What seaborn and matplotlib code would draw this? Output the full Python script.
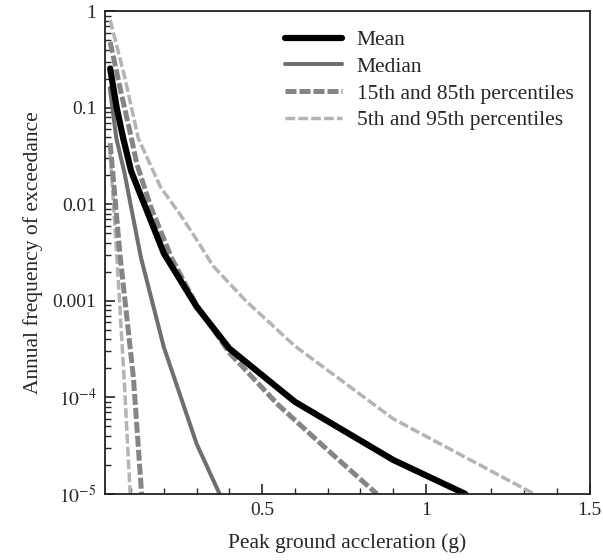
import numpy as np
import pandas as pd
import seaborn as sns
import matplotlib
matplotlib.use("Agg")
import matplotlib.pyplot as plt
from matplotlib.ticker import FixedLocator, FixedFormatter, MultipleLocator, NullFormatter
from matplotlib.lines import Line2D

# ---- data ----
mean_x = [0.036, 0.056, 0.076, 0.10, 0.20, 0.30, 0.40, 0.60, 0.90, 1.12]
mean_y = [0.255, 0.10, 0.048, 0.022, 0.0031, 0.00087, 0.00032, 9.0e-5, 2.25e-5, 1.0e-5]

median_x = [0.035, 0.055, 0.08, 0.10, 0.13, 0.20, 0.30, 0.37]
median_y = [0.16, 0.048, 0.021, 0.0093, 0.0028, 3.3e-4, 3.3e-5, 1.0e-5]

p85_x = [0.036, 0.07, 0.10, 0.117, 0.16, 0.224, 0.30, 0.40, 0.55, 0.70, 0.85]
p85_y = [0.48, 0.14, 0.05, 0.0265, 0.0094, 0.00275, 0.0009, 0.00029, 8.3e-5, 2.85e-5, 1.0e-5]

p15_x = [0.036, 0.066, 0.107, 0.132]
p15_y = [0.043, 0.003, 1.6e-4, 1.0e-5]

p95_x = [0.036, 0.08, 0.122, 0.19, 0.25, 0.30, 0.35, 0.45, 0.60, 0.90, 1.33]
p95_y = [0.81, 0.21, 0.048, 0.015, 0.0078, 0.0043, 0.0023, 0.0010, 3.4e-4, 6.0e-5, 1.0e-5]

p5_x = [0.036, 0.06, 0.08, 0.097]
p5_y = [0.035, 0.0018, 1.3e-4, 1.0e-5]

legend_labels = ["Mean", "Median", "15th and 85th percentiles", "5th and 95th percentiles"]
ytick_vals = [1, 0.1, 0.01, 0.001, 1e-4, 1e-5]
ytick_labels = ["1", "0.1", "0.01", "0.001", r"$10^{-4}$", r"$10^{-5}$"]
xtick_vals = [0.5, 1.0, 1.5]
xtick_labels = ["0.5", "1", "1.5"]

# ---- style ----
sns.set_style("ticks")
plt.rcParams["font.family"] = ["Liberation Serif", "DejaVu Serif"]
plt.rcParams["mathtext.fontset"] = "stix"
FS_TICK = 14
FS_TEXT = 15.5

fig = plt.figure(figsize=(6.03, 5.60), dpi=100)
ax = fig.add_axes([0.174, 0.118, 0.804, 0.862])

c_mean = "#000000"
c_med = "#6f6f6f"
c_p15 = "#858585"
c_p5 = "#b4b4b4"

lw_mean, lw_med, lw_p15, lw_p5 = 4.5, 2.9, 3.6, 2.5
ds_p15 = (0, (2.2, 0.6))
ds_p5 = (0, (2.8, 0.9))

def draw(x, y, **kw):
    df = pd.DataFrame({"x": x, "y": y})
    sns.lineplot(data=df, x="x", y="y", ax=ax, estimator=None, sort=False, **kw)

draw(p5_x, p5_y, color=c_p5, lw=lw_p5, linestyle=ds_p5)
draw(p95_x, p95_y, color=c_p5, lw=lw_p5, linestyle=ds_p5)
draw(median_x, median_y, color=c_med, lw=lw_med)
draw(p15_x, p15_y, color=c_p15, lw=lw_p15, linestyle=ds_p15)
draw(p85_x, p85_y, color=c_p15, lw=lw_p15, linestyle=ds_p15)
draw(mean_x, mean_y, color=c_mean, lw=lw_mean)

ax.set_yscale("log")
ax.set_xlim(0.02, 1.5)
ax.set_ylim(1e-5, 1)

ax.yaxis.set_major_locator(FixedLocator(ytick_vals))
ax.yaxis.set_major_formatter(FixedFormatter(ytick_labels))
ax.yaxis.set_minor_locator(matplotlib.ticker.LogLocator(base=10, subs=np.arange(2, 10)))
ax.yaxis.set_minor_formatter(NullFormatter())
ax.xaxis.set_major_locator(FixedLocator(xtick_vals))
ax.xaxis.set_major_formatter(FixedFormatter(xtick_labels))
ax.xaxis.set_minor_locator(MultipleLocator(0.1))

ax.tick_params(which="major", direction="in", length=7, width=1.2, labelsize=FS_TICK, pad=6)
ax.tick_params(which="minor", direction="in", length=4, width=1.0)
ax.tick_params(axis="y", which="both", left=True, right=False)
ax.tick_params(axis="x", which="both", bottom=True, top=False)
for s in ax.spines.values():
    s.set_linewidth(1.3)
    s.set_color("#222222")

ax.set_xlabel("Peak ground accleration (g)", fontsize=FS_TEXT, labelpad=10)
ax.set_ylabel("Annual frequency of exceedance", fontsize=FS_TEXT, labelpad=7)

handles = [
    Line2D([], [], color=c_mean, lw=lw_mean),
    Line2D([], [], color=c_med, lw=lw_med),
    Line2D([], [], color=c_p15, lw=lw_p15, linestyle=ds_p15),
    Line2D([], [], color=c_p5, lw=lw_p5, linestyle=ds_p5),
]
ax.legend(handles, legend_labels, loc="upper left", bbox_to_anchor=(0.371, 0.961),
          frameon=False, fontsize=FS_TEXT, handlelength=2.65, handletextpad=0.7,
          labelspacing=0.31, borderpad=0, borderaxespad=0)

fig.savefig("out.png", dpi=100)
